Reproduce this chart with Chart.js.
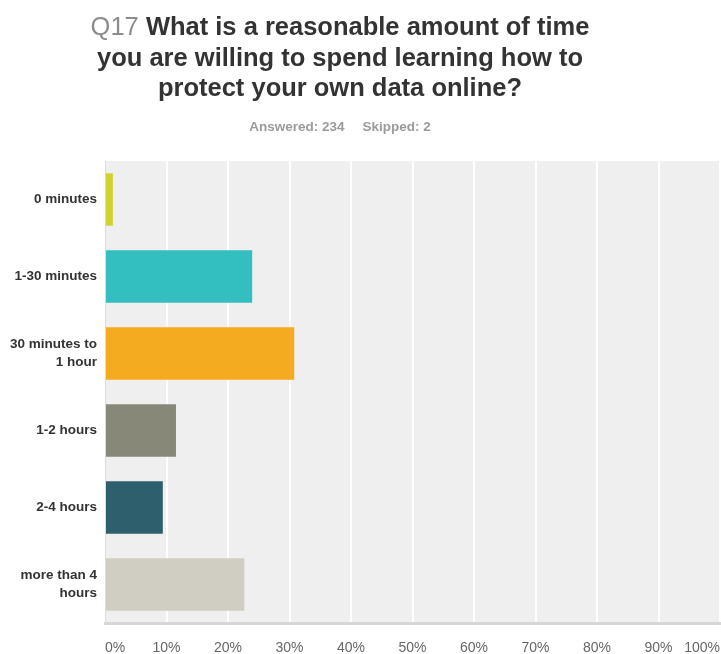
<!DOCTYPE html>
<html>
<head>
<meta charset="utf-8">
<script src="https://cdn.jsdelivr.net/npm/chart.js@4.4.1/dist/chart.umd.min.js"></script>
<style>
    html, body { margin: 0; padding: 0; background: #fff; }
    #wrap { position: relative; width: 721px; height: 654px; }
    #title {
        position: absolute; left: 0; top: 11px; width: 680px;
        text-align: center; font-family: "Liberation Sans", Arial, sans-serif;
        font-weight: bold; font-size: 25.5px; line-height: 30.5px; color: #333;
    }
    #title .qnum { color: #8c8c8c; font-weight: normal; }
    #sub {
        position: absolute; left: 0; top: 119px; width: 680px;
        text-align: center; font-family: "Liberation Sans", Arial, sans-serif;
        font-weight: bold; font-size: 13.5px; color: #9b9b9b;
    }
    #sub span + span { margin-left: 18px; }
    #chart { position: absolute; left: 0; top: 0; }
</style>
</head>
<body>
<div id="wrap">
    <canvas id="chart" width="721" height="654"></canvas>
    <div id="title"><span class="qnum">Q17</span> What is a reasonable amount of time<br>you are willing to spend learning how to<br>protect your own data online?</div>
    <div id="sub"><span>Answered: 234</span><span>Skipped: 2</span></div>
</div>
<script>
const categories = [
    '0 minutes',
    '1-30 minutes',
    ['30 minutes to', '1 hour'],
    '1-2 hours',
    '2-4 hours',
    ['more than 4', 'hours']
];
const percents = [1.28, 23.93, 30.77, 11.54, 9.40, 22.65];
const barColors = ['#cfd12e', '#33bebf', '#f4ab1f', '#878877', '#2e5f6c', '#d0cec2'];
const xTicks = [0, 10, 20, 30, 40, 50, 60, 70, 80, 90, 100];

// grey plot background behind the bars
const plotBg = {
    id: 'plotBg',
    beforeDraw(chart) {
        const { ctx, chartArea: a } = chart;
        ctx.save();
        ctx.fillStyle = '#efefef';
        ctx.fillRect(a.left, a.top, a.right - a.left, a.bottom - a.top);
        ctx.restore();
    }
};

new Chart(document.getElementById('chart').getContext('2d'), {
    type: 'bar',
    data: {
        labels: categories,
        datasets: [{
            data: percents,
            backgroundColor: barColors,
            barPercentage: 0.68,
            categoryPercentage: 1
        }]
    },
    options: {
        indexAxis: 'y',
        responsive: false,
        animation: false,
        layout: { padding: { top: 161, left: 0, right: 1, bottom: 0 } },
        plugins: { legend: { display: false }, tooltip: { enabled: false } },
        scales: {
            x: {
                min: 0, max: 100,
                afterBuildTicks: (s) => { s.ticks = xTicks.map(v => ({ value: v })); },
                afterFit: (s) => { s.height = 31; s.paddingLeft = 0; s.paddingRight = 0; },
                grid: { color: '#ffffff', lineWidth: 2, drawTicks: false },
                border: { color: '#d6d6d6', width: 3 },
                ticks: {
                    align: 'inner',
                    padding: 17,
                    color: '#666',
                    font: { family: '"Liberation Sans", Arial, sans-serif', size: 14 },
                    callback: (v) => v + '%'
                }
            },
            y: {
                afterFit: (s) => { s.width = 105; },
                grid: { display: false, drawTicks: false },
                border: { color: '#dcdcdc', width: 1 },
                ticks: {
                    padding: 8,
                    color: '#333',
                    font: { family: '"Liberation Sans", Arial, sans-serif', size: 13.5, weight: 'bold', lineHeight: 1.35 }
                }
            }
        }
    },
    plugins: [plotBg]
});
</script>
</body>
</html>
